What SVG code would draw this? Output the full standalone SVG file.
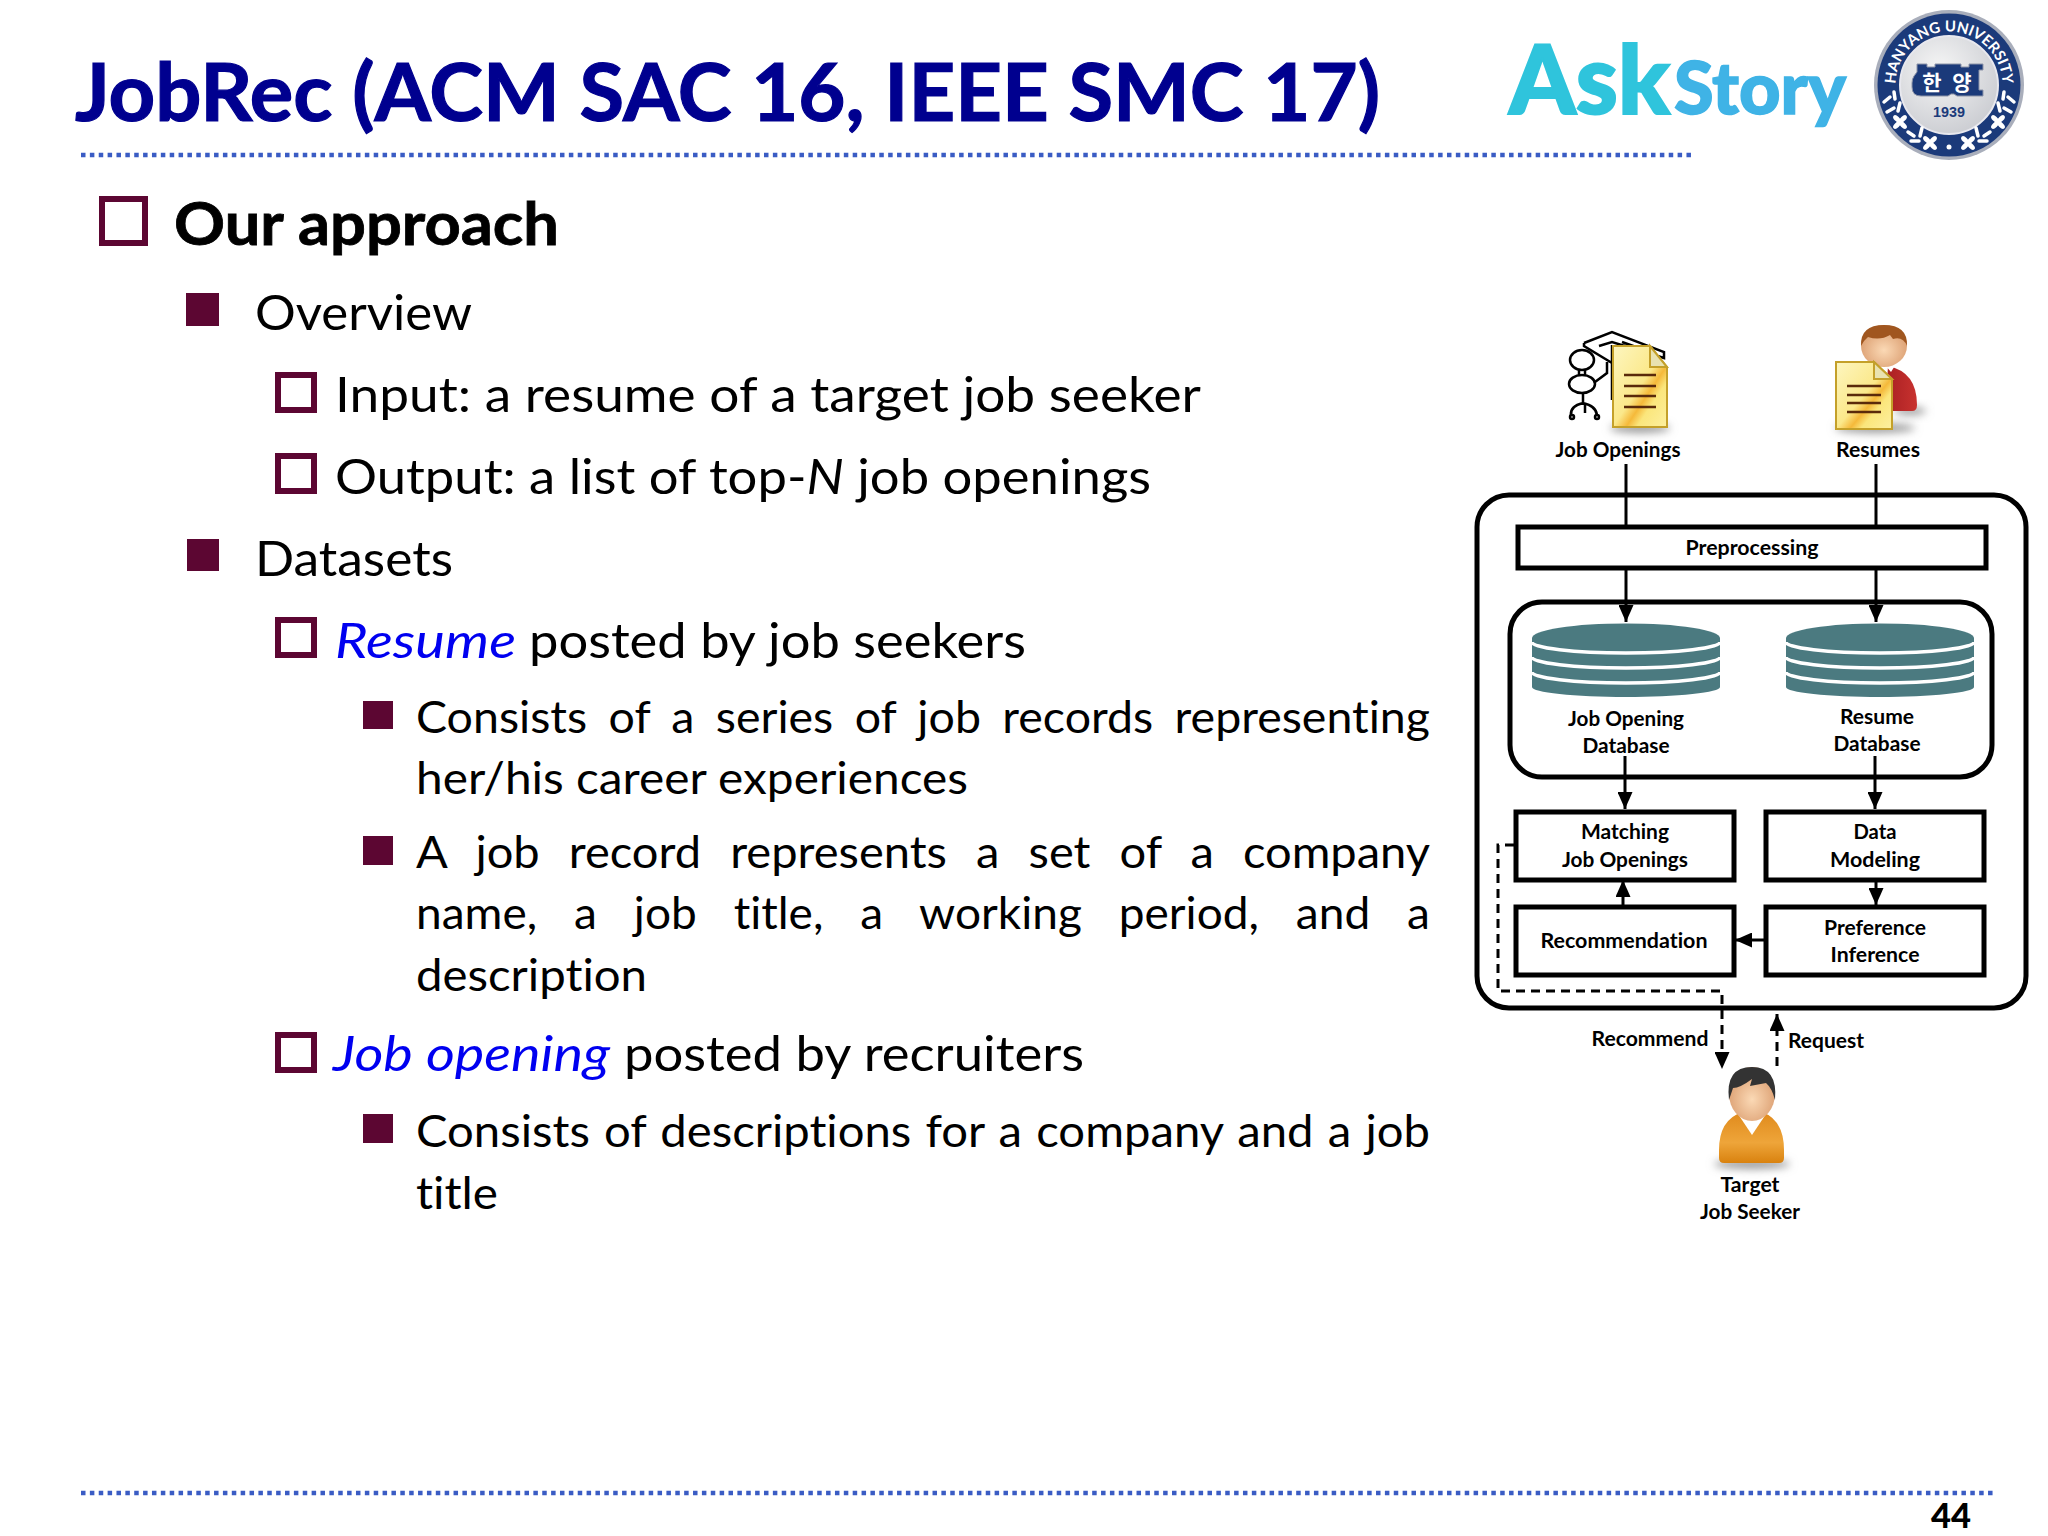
<svg xmlns="http://www.w3.org/2000/svg" xmlns:xlink="http://www.w3.org/1999/xlink" width="2048" height="1536" viewBox="0 0 2048 1536">
<style>
text{font-family:Lato,"Liberation Sans","Noto Sans CJK KR",sans-serif;fill:#000;font-variant-ligatures:none}
.t{font-size:80px;font-weight:700;fill:#00008f;stroke:#00008f;stroke-width:1.200px}
.h{font-size:60px;font-weight:700;stroke:#000;stroke-width:.8px}
.l2{font-size:49px}
.l3{font-size:44px}
.blue{fill:#0000f0;font-style:italic}
.d{font-size:20px;font-weight:700;text-anchor:middle}
.box{fill:none;stroke:#000;stroke-width:5}
.wb{fill:#fff;stroke:#000;stroke-width:5}
.ln{fill:none;stroke:#000;stroke-width:3}
.da{fill:none;stroke:#000;stroke-width:3;stroke-dasharray:9 6}
.bo{fill:none;stroke:#5c0632;stroke-width:6}
.bf{fill:#5c0632}
.dot{stroke:#3a5cc4;stroke-width:4.500;stroke-dasharray:4.500 4.370;fill:none}
.dbf{fill:#4b7a80}
.dbw{fill:none;stroke:#fff;stroke-width:3.500}
.doc{stroke:#c4a02a;stroke-width:2;fill:url(#docg)}
.fold{fill:#e9e2b0;stroke:#c4a02a;stroke-width:2}
.dl{stroke:#5a2a0a;stroke-width:2.500}
.o{fill:none;stroke:#000;stroke-width:2.500}
.leaf{fill:none;stroke:#fff;stroke-width:3.500;stroke-linecap:round}
.logo1{fill:#2fc4dc;stroke:#2fc4dc;stroke-width:2px}
.logo2{fill:#3fb3e6;stroke:#3fb3e6;stroke-width:1.500px}
</style>
<defs>
<marker id="ah" viewBox="0 0 17 15" markerWidth="17" markerHeight="15" refX="17" refY="7.500" orient="auto" markerUnits="userSpaceOnUse"><path d="M0 0L17 7.500L0 15Z" fill="#000"/></marker>
<linearGradient id="docg" x1="0" y1="0" x2="1" y2="1"><stop offset="0" stop-color="#fdf6c0"/><stop offset=".5" stop-color="#fbe88a"/><stop offset=".62" stop-color="#f5b93a"/><stop offset=".72" stop-color="#fbe67c"/><stop offset="1" stop-color="#fdf0a0"/></linearGradient>
<radialGradient id="skin" cx=".5" cy=".6" r=".6"><stop offset="0" stop-color="#fbd9b5"/><stop offset="1" stop-color="#d99a6c"/></radialGradient>
<linearGradient id="org" x1="0" y1="0" x2="0" y2="1"><stop offset="0" stop-color="#e08a1c"/><stop offset=".6" stop-color="#eea53a"/><stop offset="1" stop-color="#d9820f"/></linearGradient>
<linearGradient id="red" x1="0" y1="0" x2="1" y2="0"><stop offset="0" stop-color="#a81f22"/><stop offset="1" stop-color="#c8322f"/></linearGradient>
<radialGradient id="disc" cx=".4" cy=".35" r=".8"><stop offset="0" stop-color="#f6f6f6"/><stop offset="1" stop-color="#c4c6cc"/></radialGradient>
<filter id="bl" x="-30%" y="-100%" width="160%" height="300%"><feGaussianBlur stdDeviation="4"/></filter>
<path id="arcTop" d="M1949 138.500A53.500 53.500 0 1 1 1949.100 138.500"/>
<g id="fl"><ellipse cx="0" cy="-4.500" rx="2.500" ry="4.500" fill="#fff"/><ellipse cx="0" cy="4.500" rx="2.500" ry="4.500" fill="#fff"/><ellipse cx="-4.500" cy="0" rx="4.500" ry="2.500" fill="#fff"/><ellipse cx="4.500" cy="0" rx="4.500" ry="2.500" fill="#fff"/></g>
<g id="wreath"><path class="leaf" d="M1884 102L1890 97M1895 99L1894 92M1887 112L1894 108M1898 111L1900 103M1908 132L1914 136M1911 141L1919 141M1920 136L1922 128"/><use href="#fl" xlink:href="#fl" transform="translate(1900 122) rotate(45)"/><use href="#fl" xlink:href="#fl" transform="translate(1930 143) rotate(45)"/></g>
</defs>
<rect width="2048" height="1536" fill="#fff"/>

<g id="header">
<text class="t" x="75" y="121" textLength="1305" lengthAdjust="spacingAndGlyphs">JobRec (ACM SAC 16, IEEE SMC 17)</text>
<path class="dot" d="M81 155H1691.500"/>
<path class="dot" d="M81 1493H1993"/>
<text x="1951" y="1528" font-size="35" font-weight="900" text-anchor="middle" textLength="40" lengthAdjust="spacingAndGlyphs">44</text>
</g>

<g id="logo-askstory">
<text class="logo1" x="1509" y="114" font-size="96" font-weight="900" textLength="161" lengthAdjust="spacingAndGlyphs">Ask</text>
<text class="logo2" x="1674" y="114" font-size="73" font-weight="900" textLength="172" lengthAdjust="spacingAndGlyphs">Story</text>
</g>

<g id="logo-hanyang">
<circle cx="1949" cy="85" r="75" fill="#a9aebb"/>
<circle cx="1949" cy="85" r="71.500" fill="#1b3a7a"/>
<circle cx="1949" cy="85" r="49" fill="url(#disc)" stroke="#e8e8ee" stroke-width="2"/>
<text font-size="15" font-weight="700" style="fill:#fff"><textPath xlink:href="#arcTop" href="#arcTop" startOffset="50%" text-anchor="middle">HANYANG UNIVERSITY</textPath></text>
<path d="M1917 64h10v3h8v-3h26v3h8v-3h14v6h-4v20h4v6h-26l-3-2h-3l-3 2h-27q-9 0-9-9v-4q0-4 2-7l3-4z" fill="#1b3a7a" stroke="#8d94a8" stroke-width="1"/>
<text x="1932" y="90" font-size="21" font-weight="700" text-anchor="middle" style="fill:#fff;font-family:'Noto Sans CJK KR',sans-serif">한</text>
<text x="1962" y="90" font-size="21" font-weight="700" text-anchor="middle" style="fill:#fff;font-family:'Noto Sans CJK KR',sans-serif">양</text>
<text x="1949" y="117" font-size="14" font-weight="700" text-anchor="middle" textLength="32" lengthAdjust="spacingAndGlyphs" style="fill:#1b3a7a;font-family:'Liberation Sans',sans-serif">1939</text>
<use href="#wreath" xlink:href="#wreath"/>
<use href="#wreath" xlink:href="#wreath" transform="matrix(-1 0 0 1 3898 0)"/>
<circle cx="1949" cy="147" r="2.500" fill="#fff"/>
</g>

<g id="bullets">
<text class="h" x="174" y="245" textLength="385" lengthAdjust="spacingAndGlyphs">Our approach</text>
<rect class="bo" x="102" y="199" width="43" height="44"/>
<rect class="bf" x="186" y="293" width="33" height="33"/>
<text class="l2" x="255" y="330" textLength="217" lengthAdjust="spacingAndGlyphs">Overview</text>
<rect class="bo" x="278" y="375" width="36" height="35"/>
<text class="l2" x="335" y="412" textLength="866" lengthAdjust="spacingAndGlyphs">Input: a resume of a target job seeker</text>
<rect class="bo" x="278" y="456" width="36" height="35"/>
<text class="l2" x="335" y="494" textLength="816" lengthAdjust="spacingAndGlyphs">Output: a list of top-<tspan font-style="italic">N</tspan> job openings</text>
<rect class="bf" x="187" y="539" width="32" height="32"/>
<text class="l2" x="255" y="576" textLength="198" lengthAdjust="spacingAndGlyphs">Datasets</text>
<rect class="bo" x="278" y="620" width="36" height="35"/>
<text class="l2 blue" x="335" y="658" textLength="181" lengthAdjust="spacingAndGlyphs">Resume</text>
<text class="l2" x="529" y="658" textLength="497" lengthAdjust="spacingAndGlyphs">posted by job seekers</text>
<rect class="bf" x="363" y="701" width="30" height="28"/>
<text class="l3" x="416" y="733" word-spacing="9" textLength="1014" lengthAdjust="spacingAndGlyphs">Consists of a series of job records representing</text>
<text class="l3" x="416" y="794" textLength="552" lengthAdjust="spacingAndGlyphs">her/his career experiences</text>
<rect class="bf" x="363" y="836" width="30" height="29"/>
<text class="l3" x="416" y="868" word-spacing="16" textLength="1014" lengthAdjust="spacingAndGlyphs">A job record represents a set of a company</text>
<text class="l3" x="416" y="929" word-spacing="24" textLength="1014" lengthAdjust="spacingAndGlyphs">name, a job title, a working period, and a</text>
<text class="l3" x="416" y="991" textLength="231" lengthAdjust="spacingAndGlyphs">description</text>
<rect class="bo" x="278" y="1035" width="36" height="35"/>
<text class="l2 blue" x="333" y="1071" textLength="277" lengthAdjust="spacingAndGlyphs">Job opening</text>
<text class="l2" x="624" y="1071" textLength="460" lengthAdjust="spacingAndGlyphs">posted by recruiters</text>
<rect class="bf" x="363" y="1114" width="30" height="29"/>
<text class="l3" x="416" y="1147" word-spacing="2" textLength="1014" lengthAdjust="spacingAndGlyphs">Consists of descriptions for a company and a job</text>
<text class="l3" x="416" y="1209" textLength="82" lengthAdjust="spacingAndGlyphs">title</text>
</g>

<g id="system-frame"><rect class="box" x="1477" y="495" width="549" height="513" rx="32"/></g>

<g id="databases">
<rect class="box" x="1510" y="602" width="482" height="175" rx="32"/>
</g>

<g id="connectors">
<path class="ln" d="M1626 464V526M1876 464V526"/>
<path class="ln" d="M1626 568V622" marker-end="url(#ah)"/>
<path class="ln" d="M1876 568V622" marker-end="url(#ah)"/>
<path class="ln" d="M1625 756V809" marker-end="url(#ah)"/>
<path class="ln" d="M1875 756V809" marker-end="url(#ah)"/>
<path class="ln" d="M1623 906V880" marker-end="url(#ah)"/>
<path class="ln" d="M1876 880V905" marker-end="url(#ah)"/>
<path class="ln" d="M1765 940H1735" marker-end="url(#ah)"/>
<path class="da" d="M1514 845H1498V991H1722V1069" marker-end="url(#ah)"/>
<path class="da" d="M1777 1066V1014" marker-end="url(#ah)"/>
</g>

<g id="preprocessing">
<rect class="wb" x="1518" y="527" width="468" height="41"/>
<text class="d" x="1752" y="555" textLength="133" lengthAdjust="spacingAndGlyphs">Preprocessing</text>
</g>

<g id="job-opening-db">
<path class="dbf" d="M1532 638A94 14.500 0 0 1 1720 638V687A94 10 0 0 1 1532 687Z"/>
<path class="dbw" d="M1532 642A94 11 0 0 0 1720 642M1532 657A94 11 0 0 0 1720 657M1532 672A94 11 0 0 0 1720 672"/>
<text class="d" x="1626" y="726" textLength="116" lengthAdjust="spacingAndGlyphs">Job Opening</text>
<text class="d" x="1626" y="753" textLength="87" lengthAdjust="spacingAndGlyphs">Database</text>
</g>
<g id="resume-db">
<path class="dbf" d="M1786 638A94 14.500 0 0 1 1974 638V687A94 10 0 0 1 1786 687Z"/>
<path class="dbw" d="M1786 642A94 11 0 0 0 1974 642M1786 657A94 11 0 0 0 1974 657M1786 672A94 11 0 0 0 1974 672"/>
<text class="d" x="1877" y="724" textLength="74" lengthAdjust="spacingAndGlyphs">Resume</text>
<text class="d" x="1877" y="751" textLength="87" lengthAdjust="spacingAndGlyphs">Database</text>
</g>

<g id="matching">
<rect class="wb" x="1516" y="812" width="218" height="68"/>
<text class="d" x="1625" y="839" textLength="88" lengthAdjust="spacingAndGlyphs">Matching</text>
<text class="d" x="1625" y="867" textLength="126" lengthAdjust="spacingAndGlyphs">Job Openings</text>
</g>
<g id="data-modeling">
<rect class="wb" x="1766" y="812" width="218" height="68"/>
<text class="d" x="1875" y="839" textLength="43" lengthAdjust="spacingAndGlyphs">Data</text>
<text class="d" x="1875" y="867" textLength="90" lengthAdjust="spacingAndGlyphs">Modeling</text>
</g>
<g id="recommendation">
<rect class="wb" x="1516" y="907" width="218" height="68"/>
<text class="d" x="1624" y="948" textLength="167" lengthAdjust="spacingAndGlyphs">Recommendation</text>
</g>
<g id="preference">
<rect class="wb" x="1766" y="907" width="218" height="68"/>
<text class="d" x="1875" y="935" textLength="102" lengthAdjust="spacingAndGlyphs">Preference</text>
<text class="d" x="1875" y="962" textLength="89" lengthAdjust="spacingAndGlyphs">Inference</text>
</g>

<g id="job-openings">
<ellipse cx="1640" cy="428" rx="30" ry="5" fill="#999" filter="url(#bl)"/>
<path class="o" d="M1584 343L1612 332L1664 352V358L1612 342L1599 346M1584 343V346L1612 363M1607 362V373L1595 382M1612 345V400M1622 342L1650 352"/>
<ellipse class="o" cx="1582" cy="360" rx="12" ry="10"/>
<ellipse class="o" cx="1582" cy="384" rx="13" ry="9"/>
<path class="o" d="M1579 370V375M1585 370V375M1583 393V405M1583 403Q1570 406 1571 415M1583 403Q1596 406 1597 415M1585 405V413"/>
<circle class="o" cx="1572" cy="417" r="2"/><circle class="o" cx="1597" cy="417" r="2"/>
<path class="doc" d="M1613 346H1650L1667 367V427H1613Z"/>
<path class="fold" d="M1650 346L1667 367H1650Z"/>
<path class="dl" d="M1624 375H1656M1624 386H1656M1624 396H1656M1624 407H1656"/>
<text class="d" x="1618" y="457" textLength="125" lengthAdjust="spacingAndGlyphs">Job Openings</text>
</g>

<g id="resumes">
<ellipse cx="1875" cy="428" rx="40" ry="5" fill="#999" filter="url(#bl)"/>
<ellipse cx="1910" cy="411" rx="16" ry="4" fill="#999" filter="url(#bl)"/>
<path d="M1888 366Q1917 372 1917 405Q1917 411 1912 411H1885Z" fill="url(#red)"/>
<path d="M1884 364h12l-5 8z" fill="#fff"/>
<ellipse cx="1884" cy="346" rx="23" ry="21" fill="url(#skin)"/>
<path d="M1861 346Q1860 325 1884 325Q1908 325 1907 346Q1903 336 1893 339L1890 335Q1880 341 1868 337Q1864 340 1861 346Z" fill="#a0561f"/>
<path class="doc" d="M1836 362H1874L1892 379V429H1836Z"/>
<path class="fold" d="M1874 362L1892 379H1874Z"/>
<path class="dl" d="M1847 386H1881M1847 395H1881M1847 403H1881M1847 412H1881"/>
<text class="d" x="1878" y="457" textLength="84" lengthAdjust="spacingAndGlyphs">Resumes</text>
</g>

<g id="link-labels">
<text class="d" x="1650" y="1046" textLength="117" lengthAdjust="spacingAndGlyphs">Recommend</text>
<text class="d" x="1826" y="1048" textLength="76" lengthAdjust="spacingAndGlyphs">Request</text>
</g>

<g id="target-job-seeker">
<ellipse cx="1752" cy="1164" rx="38" ry="5" fill="#999" filter="url(#bl)"/>
<path d="M1719 1150Q1719 1120 1742 1112L1752 1125L1762 1112Q1784 1120 1784 1150V1158Q1784 1163 1779 1163H1724Q1719 1163 1719 1158Z" fill="url(#org)"/>
<path d="M1738 1114L1752 1135L1766 1114Z" fill="#fff"/>
<ellipse cx="1752" cy="1094" rx="23" ry="27" fill="url(#skin)"/>
<path d="M1729 1100Q1725 1067 1752 1067Q1778 1067 1775 1100Q1772 1088 1766 1083L1750 1086L1752 1079Q1740 1088 1733 1088Q1731 1094 1729 1100Z" fill="#333"/>
<text class="d" x="1750" y="1192" textLength="59" lengthAdjust="spacingAndGlyphs">Target</text>
<text class="d" x="1750" y="1219" textLength="100" lengthAdjust="spacingAndGlyphs">Job Seeker</text>
</g>
</svg>
